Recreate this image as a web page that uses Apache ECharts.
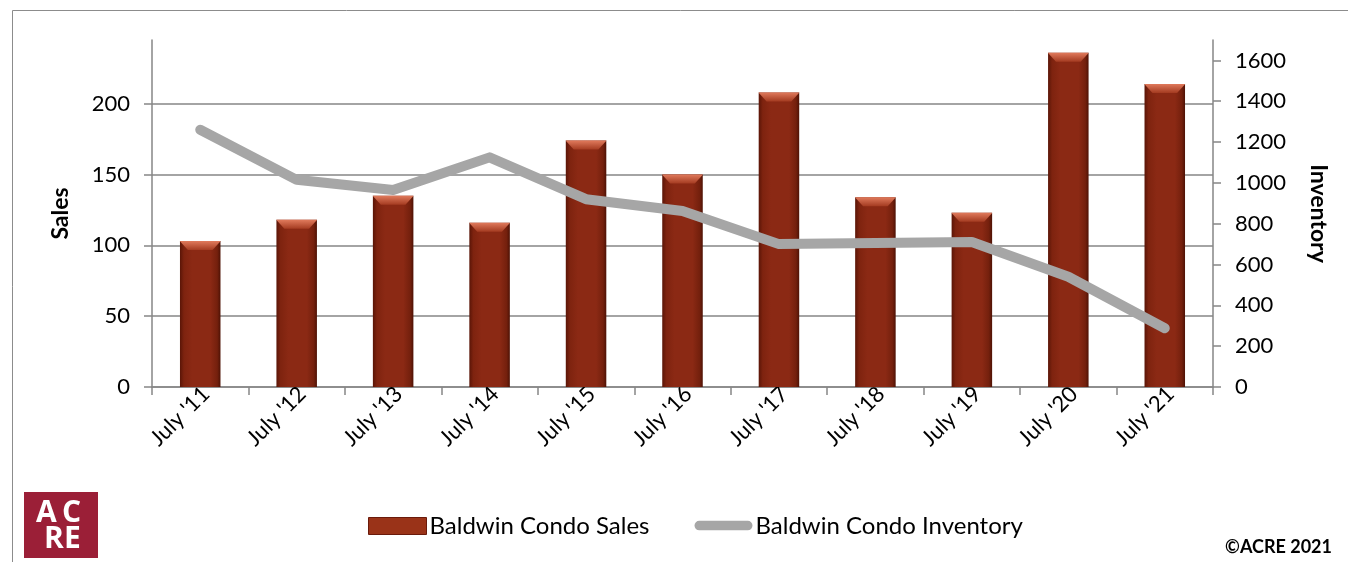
<!DOCTYPE html>
<html>
<head>
<meta charset="utf-8">
<script src="https://cdn.jsdelivr.net/npm/echarts@6/dist/echarts.min.js"></script>
<style>
  html, body { margin: 0; padding: 0; background: #fff; }
  #myChart { width: 1348px; height: 562px; }
</style>
</head>
<body>
<div id="myChart"></div>
<script>
// x轴类目
var categories = ["July '11", "July '12", "July '13", "July '14", "July '15", "July '16", "July '17", "July '18", "July '19", "July '20", "July '21"];
// 销量 (左轴)
var salesData = [103, 118, 135, 116, 174, 150, 208, 134, 123, 236, 214];
// 库存 (右轴)
var inventoryData = [1260, 1015, 965, 1125, 920, 862, 700, 706, 710, 540, 288];
// 刻度
var salesTicks = { min: 0, max: 245, interval: 50 };
var inventoryTicks = { min: 0, max: 1700, interval: 200 };

var FONT = 'Lato, "Open Sans", sans-serif';
var axisGray = '#868686';
var LOGO_FONT = 'bold 30px "Open Sans", sans-serif';

var barFill = new echarts.graphic.LinearGradient(0, 0, 1, 0, [
  { offset: 0, color: '#5a1507' },
  { offset: 0.1, color: '#7e230f' },
  { offset: 0.3, color: '#8b2914' },
  { offset: 0.75, color: '#8b2914' },
  { offset: 0.92, color: '#74200d' },
  { offset: 1, color: '#4e1205' }
]);
var capFill = new echarts.graphic.LinearGradient(0, 0, 0, 1, [
  { offset: 0, color: '#e07a5c' },
  { offset: 1, color: '#a43b21' }
]);

var option = {
  backgroundColor: '#fff',
  animation: false,
  textStyle: { fontFamily: FONT },
  grid: { left: 152, right: 135, top: 40, bottom: 175 },
  legend: {
    top: 509,
    left: 363,
    itemGap: 45,
    itemWidth: 58,
    itemHeight: 17,
    textStyle: { fontSize: 24, color: '#000', fontFamily: FONT, padding: [0, 0, 0, -2] },
    data: [
      { name: 'Baldwin Condo Sales', icon: 'rect', itemStyle: { color: '#9a3318', borderColor: '#6a1a0b', borderWidth: 1 } },
      {
        name: 'Baldwin Condo Inventory',
        icon: 'path://M0,0 M0,17 M5,3 L56,3 A5,5 0 0 1 56,13 L5,13 A5,5 0 0 1 5,3 Z',
        itemStyle: { color: '#a6a6a6' }
      }
    ]
  },
  xAxis: {
    type: 'category',
    data: categories,
    axisLine: { lineStyle: { color: axisGray, width: 1.5 } },
    axisTick: { show: true, length: 8, alignWithLabel: false, lineStyle: { color: axisGray, width: 1.5 } },
    axisLabel: { rotate: 45, fontSize: 22, color: '#000', fontFamily: FONT, margin: 9, interval: 0, padding: [0, -8, 0, 0] }
  },
  yAxis: [
    {
      type: 'value',
      min: salesTicks.min,
      max: salesTicks.max,
      interval: salesTicks.interval,
      name: 'Sales',
      nameLocation: 'middle',
      nameRotate: 90,
      nameGap: 80,
      nameTextStyle: { fontSize: 23, fontWeight: 'bold', color: '#000', fontFamily: FONT },
      axisLine: { show: true, lineStyle: { color: axisGray, width: 1.5 } },
      axisTick: { show: true, length: 8, lineStyle: { color: axisGray, width: 1.5 } },
      axisLabel: { fontSize: 22, color: '#000', fontFamily: FONT, margin: 22, showMaxLabel: false },
      splitLine: { show: true, showMaxLine: false, lineStyle: { color: axisGray, width: 1.5 } }
    },
    {
      type: 'value',
      min: inventoryTicks.min,
      max: inventoryTicks.max,
      interval: inventoryTicks.interval,
      name: 'Inventory',
      nameLocation: 'middle',
      nameRotate: -90,
      nameGap: 94,
      nameTextStyle: { fontSize: 23, fontWeight: 'bold', color: '#000', fontFamily: FONT },
      axisLine: { show: true, lineStyle: { color: axisGray, width: 1.5 } },
      axisTick: { show: true, length: 8, lineStyle: { color: axisGray, width: 1.5 } },
      axisLabel: { fontSize: 22, color: '#000', fontFamily: FONT, margin: 22, showMaxLabel: false, formatter: function (v) { return String(v); } },
      splitLine: { show: false }
    }
  ],
  series: [
    {
      name: 'Baldwin Condo Sales',
      type: 'bar',
      yAxisIndex: 0,
      barWidth: '42%',
      barGap: '-100%',
      data: salesData,
      itemStyle: { color: barFill },
      z: 2
    },
    {
      name: 'cap',
      type: 'pictorialBar',
      yAxisIndex: 0,
      barWidth: '42%',
      barGap: '-100%',
      symbol: 'path://M0,0 L40,0 L32,8 L8,8 Z',
      symbolSize: [41, 9],
      symbolPosition: 'end',
      symbolOffset: [0, 0],
      data: salesData,
      itemStyle: { color: capFill },
      silent: true,
      z: 3
    },
    {
      name: 'Baldwin Condo Inventory',
      type: 'line',
      yAxisIndex: 1,
      data: inventoryData,
      symbol: 'none',
      lineStyle: { color: '#a6a6a6', width: 10, cap: 'round', join: 'round' },
      itemStyle: { color: '#a6a6a6' },
      z: 4
    }
  ],
  graphic: [
    { type: 'line', shape: { x1: 12.5, y1: 10.5, x2: 1348, y2: 10.5 }, style: { stroke: '#8c8c8c', lineWidth: 1 } },
    { type: 'line', shape: { x1: 12.5, y1: 10.5, x2: 12.5, y2: 562 }, style: { stroke: '#8c8c8c', lineWidth: 1 } },
    { type: 'rect', shape: { x: 24, y: 492, width: 74, height: 66 }, style: { fill: '#9b1f37' } },
    { type: 'text', style: { x: 36, y: 513, text: 'A', fill: '#fff', font: LOGO_FONT, verticalAlign: 'middle' } },
    { type: 'text', style: { x: 62, y: 513, text: 'C', fill: '#fff', font: LOGO_FONT, verticalAlign: 'middle' } },
    { type: 'text', style: { x: 44, y: 539, text: 'R', fill: '#fff', font: LOGO_FONT, verticalAlign: 'middle' } },
    { type: 'text', style: { x: 64, y: 539, text: 'E', fill: '#fff', font: LOGO_FONT, verticalAlign: 'middle' } },
    { type: 'text', right: 16, top: 538, style: { text: '©ACRE 2021', fill: '#000', font: 'bold 18px Lato, sans-serif' } }
  ]
};

var myChart = echarts.init(document.getElementById('myChart'));
myChart.setOption(option);
</script>
</body>
</html>
